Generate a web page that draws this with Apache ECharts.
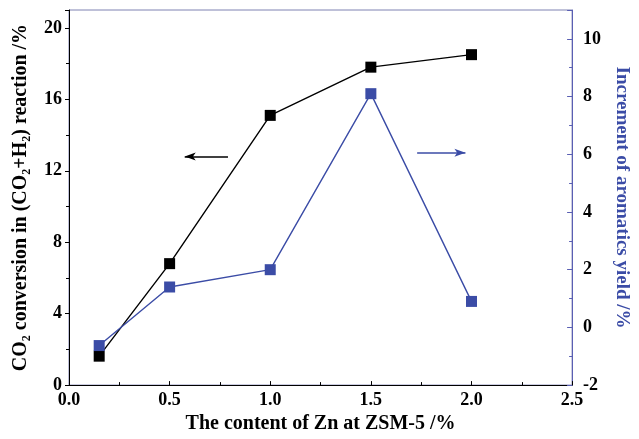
<!DOCTYPE html>
<html>
<head>
<meta charset="utf-8">
<script src="https://cdn.jsdelivr.net/npm/echarts@6/dist/echarts.min.js"></script>
<style>
html,body{margin:0;padding:0;background:#fff;}
#chart{width:639px;height:439px;}
</style>
</head>
<body>
<div id="chart"></div>
<script>
const xValues = [0.15, 0.5, 1.0, 1.5, 2.0];
const co2Conversion = [1.62, 6.8, 15.1, 17.8, 18.5];
const aromaticsIncrement = [-0.63, 1.4, 2.0, 8.1, 0.9];
const leftArrow = [[0.79, 12.8], [0.575, 12.8]];
const rightArrow = [[1.73, 6.05], [1.97, 6.05]];

const BLUE = '#3b4ca6';
const FONT = '"Liberation Serif", "Times New Roman", serif';

const chart = echarts.init(document.getElementById('chart'), null, {renderer: 'canvas'});

function pairs(xs, ys) { return xs.map((x, i) => [x, ys[i]]); }

const subRich = (color) => ({
  n: {fontFamily: FONT, fontWeight: 'bold', fontSize: 20, color: color, lineHeight: 24},
  s: {fontFamily: FONT, fontWeight: 'bold', fontSize: 12, color: color, lineHeight: 12, verticalAlign: 'bottom'}
});

chart.setOption({
  animation: false,
  backgroundColor: '#fff',
  grid: {left: 69, right: 53, top: 10, bottom: 47, show: true, borderColor: '#7f82b2', borderWidth: 1},
  xAxis: {
    type: 'value', min: 0, max: 2.5, interval: 0.5,
    name: 'The content of Zn at ZSM-5 /%', nameLocation: 'middle', nameGap: 25,
    nameTextStyle: {fontFamily: FONT, fontWeight: 'bold', fontSize: 20, color: '#000'},
    axisLine: {lineStyle: {color: '#000', width: 1}},
    axisTick: {inside: true, length: 4, lineStyle: {color: '#000'}},
    minorTick: {show: true, splitNumber: 2, length: 3, lineStyle: {color: '#000'}},
    splitLine: {show: false},
    axisLabel: {fontFamily: FONT, fontWeight: 'bold', fontSize: 18, color: '#000', margin: 6,
      formatter: v => v.toFixed(1)}
  },
  yAxis: [{
    type: 'value', min: 0, max: 21, interval: 4, position: 'left',
    name: '{n|CO}{s|2}{n| conversion in (CO}{s|2}{n|+H}{s|2}{n|) reaction /%}',
    nameLocation: 'middle', nameGap: 36, nameRotate: 90,
    nameTextStyle: {rich: subRich('#000')},
    axisLine: {show: true, lineStyle: {color: '#000', width: 1}},
    axisTick: {inside: false, length: 4, lineStyle: {color: '#000'}},
    minorTick: {show: true, splitNumber: 2, length: 3, lineStyle: {color: '#000'}},
    splitLine: {show: false},
    axisLabel: {fontFamily: FONT, fontWeight: 'bold', fontSize: 18, color: '#000', margin: 7,
      showMaxLabel: false}
  }, {
    type: 'value', min: -2, max: 11, interval: 2, position: 'right',
    name: 'Increment of aromatics yield /%',
    nameLocation: 'middle', nameGap: 34, nameRotate: -90,
    nameTextStyle: {fontFamily: FONT, fontWeight: 'bold', fontSize: 19, color: BLUE},
    axisLine: {show: true, lineStyle: {color: '#5a5fb3', width: 1}},
    axisTick: {inside: true, length: 5, lineStyle: {color: '#5a5fb3'}},
    minorTick: {show: true, splitNumber: 2, length: 3, lineStyle: {color: '#5a5fb3'}},
    splitLine: {show: false},
    axisLabel: {fontFamily: FONT, fontWeight: 'bold', fontSize: 18, color: '#000', margin: 11,
      showMaxLabel: false}
  }],
  series: [{
    type: 'line', yAxisIndex: 0, data: pairs(xValues, co2Conversion),
    symbol: 'rect', symbolSize: 11, z: 2,
    lineStyle: {color: '#000', width: 1.4}, itemStyle: {color: '#000'},
    markLine: {
      silent: true, symbol: ['none', 'arrow'], symbolSize: [6, 11],
      label: {show: false},
      lineStyle: {color: '#000', width: 1.5, type: 'solid'},
      data: [[{coord: leftArrow[0]}, {coord: leftArrow[1]}]]
    }
  }, {
    type: 'line', yAxisIndex: 1, data: pairs(xValues, aromaticsIncrement),
    symbol: 'rect', symbolSize: 11, z: 3,
    lineStyle: {color: BLUE, width: 1.4}, itemStyle: {color: BLUE},
    markLine: {
      silent: true, symbol: ['none', 'arrow'], symbolSize: [6, 11],
      label: {show: false},
      lineStyle: {color: BLUE, width: 1.5, type: 'solid'},
      data: [[{coord: rightArrow[0]}, {coord: rightArrow[1]}]]
    }
  }]
});
</script>
</body>
</html>
